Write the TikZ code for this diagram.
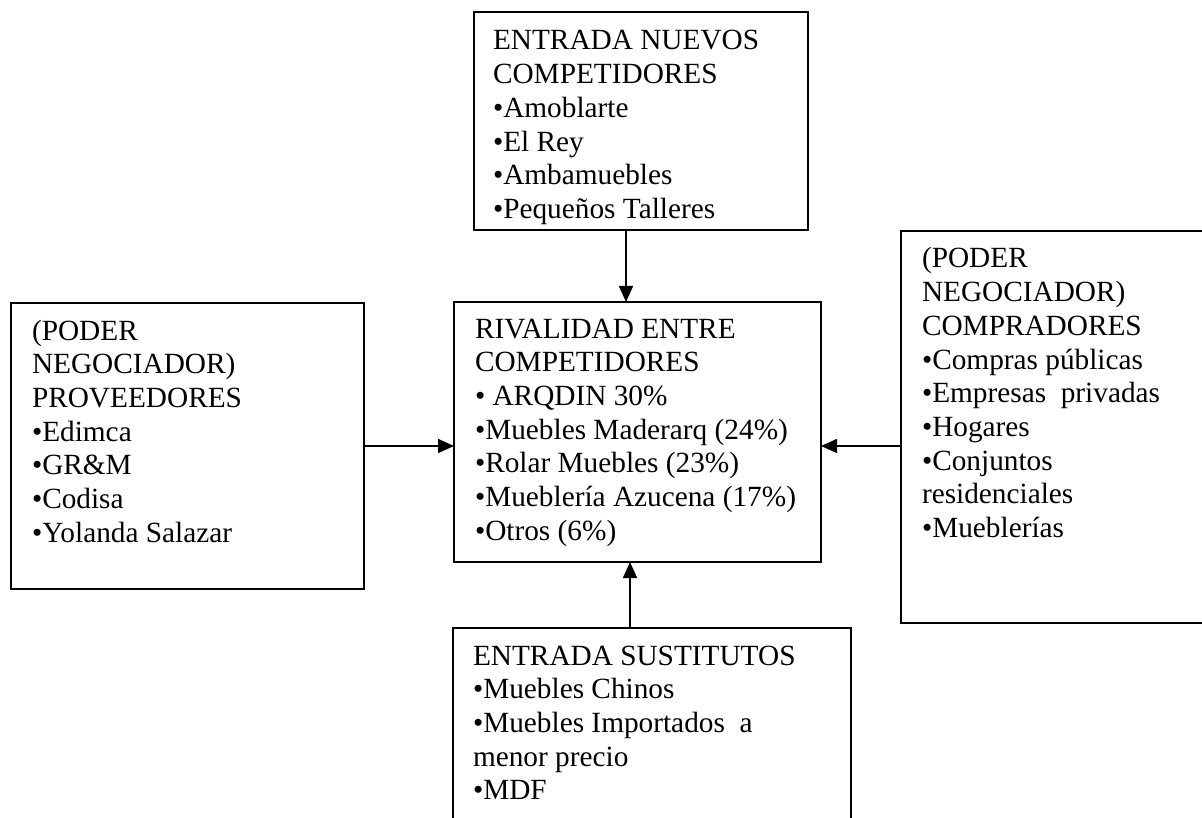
\documentclass[tikz,border=0pt]{standalone}
\usepackage{fontspec}
\setmainfont{Liberation Serif}
\usetikzlibrary{arrows.meta}
\tikzset{
  boxframe/.style={draw=black, line width=1.6pt, inner sep=0pt, outer sep=0pt, rectangle},
  boxtext/.style={anchor=base west, inner sep=0pt, outer sep=0pt, font=\fontsize{29.3}{33.7}\selectfont},
  arr/.style={line width=1.6pt, -{Triangle[length=16pt,width=14pt]}}
}
\newcommand{\txt}[1]{\parbox[t]{420pt}{\raggedright #1}}
\begin{document}
\begin{tikzpicture}[x=1pt,y=-1pt]
\useasboundingbox (0,0) rectangle (1202,818);
% boxes
\node[boxframe, minimum width=334pt, minimum height=218pt, anchor=north west] (top) at (474,12) {};
\node[boxframe, minimum width=367pt, minimum height=260pt, anchor=north west] (cen) at (454,302) {};
\node[boxframe, minimum width=353pt, minimum height=286pt, anchor=north west] (lft) at (11,303) {};
\node[boxframe, minimum width=320pt, minimum height=392pt, anchor=north west] (rgt) at (901,231) {};
\node[boxframe, minimum width=398pt, minimum height=210pt, anchor=north west] (bot) at (453,628) {};
% texts
\node[boxtext] (toptxt) at (493,50) {\txt{ENTRADA NUEVOS\\COMPETIDORES\\•Amoblarte\\•El Rey\\•Ambamuebles\\•Pequeños Talleres}};
\node[boxtext] (centxt) at (475,338) {\txt{RIVALIDAD ENTRE\\COMPETIDORES\\• ARQDIN 30\%\\•Muebles Maderarq (24\%)\\•Rolar Muebles (23\%)\\•Mueblería Azucena (17\%)\\•Otros (6\%)}};
\node[boxtext] (lfttxt) at (32,340) {\txt{(PODER\\NEGOCIADOR)\\PROVEEDORES\\•Edimca\\•GR\&M\\•Codisa\\•Yolanda Salazar}};
\node[boxtext] (rgttxt) at (922,268) {\txt{(PODER\\NEGOCIADOR)\\COMPRADORES\\•Compras públicas\\•Empresas\ \ privadas\\•Hogares\\•Conjuntos\\residenciales\\•Mueblerías}};
\node[boxtext] (bottxt) at (473,665) {\txt{ENTRADA SUSTITUTOS\\•Muebles Chinos\\•Muebles Importados\ \ a\\menor precio\\•MDF}};
% arrows
\draw[arr] (top.south -| 626,0) -- (cen.north -| 626,0);
\draw[arr] (lft.east |- 0,446) -- (cen.west |- 0,446);
\draw[arr] (rgt.west |- 0,446) -- (cen.east |- 0,446);
\draw[arr] (bot.north -| 630,0) -- (cen.south -| 630,0);
\end{tikzpicture}
\end{document}
